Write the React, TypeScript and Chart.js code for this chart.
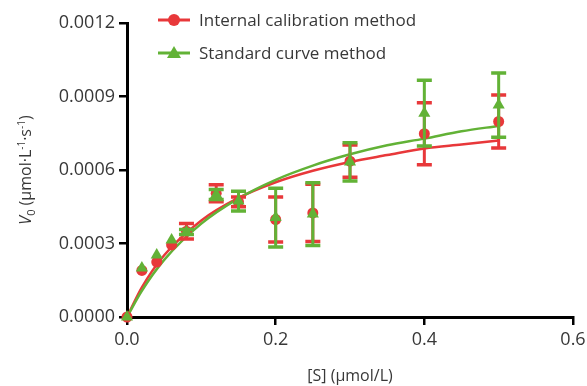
import React, { useEffect, useRef } from 'react';
import { Chart, registerables } from 'chart.js';

Chart.register(...registerables);

// Substrate concentrations [S] (µmol/L)
const concentrations = [0, 0.02, 0.04, 0.06, 0.08, 0.12, 0.15, 0.2, 0.25, 0.3, 0.4, 0.5];
// Internal calibration method: mean V0 and error
const internalMeans = [0, 0.00019, 0.000224, 0.000294, 0.00035, 0.000505, 0.00047, 0.000398, 0.000425, 0.000636, 0.000748, 0.000798];
const internalErrors = [0, 0, 0, 0, 0.000032, 0.000035, 0.00002, 0.000092, 0.000117, 0.000066, 0.000127, 0.000108];
// Standard curve method: mean V0 and error
const standardMeans = [0, 0.0002, 0.000253, 0.000314, 0.000347, 0.0005, 0.000473, 0.000406, 0.00042, 0.000633, 0.000832, 0.000865];
const standardErrors = [0, 0, 0, 0, 0.00001, 0.00002, 0.00004, 0.00012, 0.000128, 0.000078, 0.000134, 0.000131];
// Fitted curves
const fitX = [0, 0.02, 0.05, 0.1, 0.15, 0.2, 0.25, 0.3, 0.35, 0.4, 0.45, 0.5];
const internalFit = [0, 0.000121, 0.000252, 0.000394, 0.000486, 0.00055, 0.000597, 0.000633, 0.000661, 0.000688, 0.000704, 0.00072];
const standardFit = [0, 0.000107, 0.000233, 0.000381, 0.000484, 0.00056, 0.000618, 0.000664, 0.000701, 0.000728, 0.000758, 0.00078];

const legendLabels = ['Internal calibration method', 'Standard curve method'];
const xTitle = '[S] (μmol/L)';

const RED = '#E8383A';
const GREEN = '#62B236';
const TEXT = '#383838';
const FONT = '"Open Sans", "DejaVu Sans", sans-serif';

const toPts = (xs: number[], ys: number[]) => xs.map((x, i) => ({ x, y: ys[i] }));

const errorBarPlugin = {
  id: 'errorBars',
  beforeDatasetDraw(chart: any, args: any) {
    const ds = chart.data.datasets[args.index];
    if (!ds.errors) return;
    const meta = chart.getDatasetMeta(args.index);
    const yScale = chart.scales.y;
    const ctx = chart.ctx;
    ctx.save();
    ctx.strokeStyle = ds.borderColor;
    meta.data.forEach((pt: any, i: number) => {
      const e = ds.errors[i];
      if (!e) return;
      const v = ds.data[i].y;
      const top = yScale.getPixelForValue(v + e);
      const bot = yScale.getPixelForValue(v - e);
      const x = pt.x;
      ctx.lineWidth = 3;
      ctx.beginPath();
      ctx.moveTo(x, top);
      ctx.lineTo(x, bot);
      ctx.stroke();
      ctx.lineWidth = 3.5;
      ctx.beginPath();
      ctx.moveTo(x - 7.5, top);
      ctx.lineTo(x + 7.5, top);
      ctx.moveTo(x - 7.5, bot);
      ctx.lineTo(x + 7.5, bot);
      ctx.stroke();
    });
    ctx.restore();
  },
};

const decorPlugin = {
  id: 'decor',
  afterDraw(chart: any) {
    const ctx = chart.ctx;
    const area = chart.chartArea;
    ctx.save();
    // Legend
    const lx = area.left + 31;
    const rows = [
      { y: area.top - 3, color: RED, style: 'circle', label: legendLabels[0] },
      { y: area.top + 30, color: GREEN, style: 'triangle', label: legendLabels[1] },
    ];
    rows.forEach((r) => {
      ctx.strokeStyle = r.color;
      ctx.fillStyle = r.color;
      ctx.lineWidth = 3;
      ctx.beginPath();
      ctx.moveTo(lx, r.y);
      ctx.lineTo(lx + 32, r.y);
      ctx.stroke();
      const cx = lx + 16;
      ctx.beginPath();
      if (r.style === 'circle') {
        ctx.arc(cx, r.y, 6, 0, Math.PI * 2);
      } else {
        ctx.moveTo(cx, r.y - 7);
        ctx.lineTo(cx + 7, r.y + 5);
        ctx.lineTo(cx - 7, r.y + 5);
        ctx.closePath();
      }
      ctx.fill();
      ctx.fillStyle = TEXT;
      ctx.font = `17px ${FONT}`;
      ctx.textBaseline = 'middle';
      ctx.textAlign = 'left';
      ctx.fillText(r.label, lx + 41, r.y + 1);
    });

    // Y axis title with italic V, subscript and superscripts
    const segs = [
      { t: 'V', f: `italic 16px ${FONT}`, dy: 0 },
      { t: '0', f: `11px ${FONT}`, dy: 4 },
      { t: ' (μmol·L', f: `16px ${FONT}`, dy: 0 },
      { t: '-1', f: `10px ${FONT}`, dy: -6 },
      { t: '·s', f: `16px ${FONT}`, dy: 0 },
      { t: '-1', f: `10px ${FONT}`, dy: -6 },
      { t: ')', f: `16px ${FONT}`, dy: 0 },
    ];
    let total = 0;
    const widths = segs.map((s) => {
      ctx.font = s.f;
      const w = ctx.measureText(s.t).width;
      total += w;
      return w;
    });
    ctx.translate(31, (area.top + area.bottom) / 2);
    ctx.rotate(-Math.PI / 2);
    ctx.fillStyle = TEXT;
    ctx.textBaseline = 'alphabetic';
    ctx.textAlign = 'left';
    let px = -total / 2;
    segs.forEach((s, i) => {
      ctx.font = s.f;
      ctx.fillText(s.t, px, s.dy);
      px += widths[i];
    });
    ctx.restore();
  },
};

export default function App() {
  const ref = useRef<HTMLCanvasElement>(null);
  useEffect(() => {
    if (!ref.current) return;
    const chart = new Chart(ref.current, {
      type: 'scatter',
      data: {
        datasets: [
          {
            label: legendLabels[1],
            data: toPts(concentrations, standardMeans),
            errors: standardErrors,
            borderColor: GREEN,
            backgroundColor: GREEN,
            pointStyle: 'triangle',
            pointRadius: 7,
            pointBorderWidth: 0,
            showLine: false,
            clip: false,
          } as any,
          {
            label: legendLabels[0],
            data: toPts(concentrations, internalMeans),
            errors: internalErrors,
            borderColor: RED,
            backgroundColor: RED,
            pointStyle: 'circle',
            pointRadius: 5.5,
            pointBorderWidth: 0,
            showLine: false,
            clip: false,
          } as any,
          {
            label: 'Standard fit',
            data: toPts(fitX, standardFit),
            borderColor: GREEN,
            borderWidth: 2.5,
            pointRadius: 0,
            showLine: true,
            cubicInterpolationMode: 'monotone',
            clip: false,
          } as any,
          {
            label: 'Internal fit',
            data: toPts(fitX, internalFit),
            borderColor: RED,
            borderWidth: 2.5,
            pointRadius: 0,
            showLine: true,
            cubicInterpolationMode: 'monotone',
            clip: false,
          } as any,
        ],
      },
      options: {
        animation: false,
        responsive: false,
        devicePixelRatio: 1,
        layout: { padding: { left: 0, top: 23, right: 14, bottom: 0 } },
        plugins: { legend: { display: false }, tooltip: { enabled: false } },
        scales: {
          x: {
            type: 'linear',
            min: 0,
            max: 0.6,
            afterFit: (s: any) => { s.height = 69; s.paddingRight = 0; s.paddingLeft = 0; },
            ticks: {
              stepSize: 0.2,
              padding: 4,
              color: TEXT,
              font: { family: FONT, size: 18 },
              callback: (v: any) => Number(v).toFixed(1),
            },
            grid: { display: true, drawOnChartArea: false, drawTicks: true, tickLength: 8, color: '#000', lineWidth: 2.5 },
            border: { display: true, color: '#000', width: 3 },
            title: { display: true, text: xTitle, color: TEXT, font: { family: FONT, size: 16 }, padding: { top: 0, bottom: 0 } },
          },
          y: {
            type: 'linear',
            min: 0,
            max: 0.0012,
            afterFit: (s: any) => { s.width = 127; },
            ticks: {
              stepSize: 0.0003,
              padding: 4,
              color: TEXT,
              font: { family: FONT, size: 18 },
              callback: (v: any) => Number(v).toFixed(4),
            },
            grid: { display: true, drawOnChartArea: false, drawTicks: true, tickLength: 8, color: '#000', lineWidth: 2.5 },
            border: { display: true, color: '#000', width: 3 },
          },
        },
      } as any,
      plugins: [errorBarPlugin, decorPlugin],
    });
    return () => chart.destroy();
  }, []);
  return (
    <div style={{ position: 'fixed', left: 0, top: 0, width: 587, height: 386, background: '#fff' }}>
      <canvas ref={ref} width={587} height={386} style={{ display: 'block' }} />
    </div>
  );
}
